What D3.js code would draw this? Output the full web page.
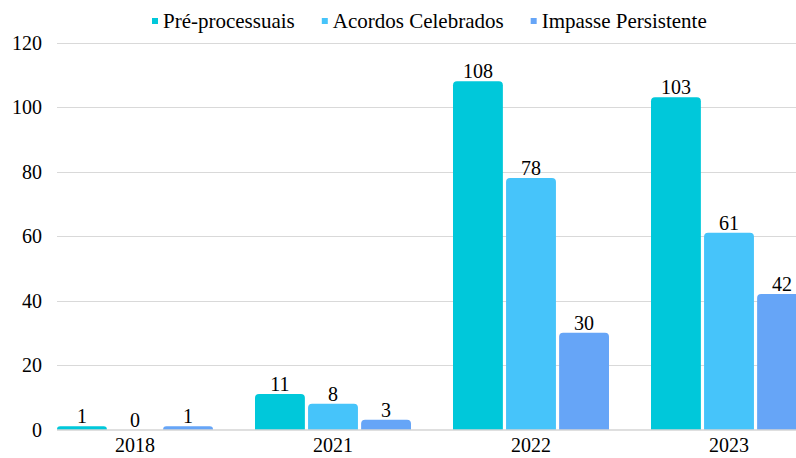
<!DOCTYPE html>
<html><head><meta charset="utf-8"><script src="https://cdn.jsdelivr.net/npm/d3@7"></script></head>
<body style="margin:0">
<svg id="s" width="796" height="458"></svg>
<script>
const categories = ["2018", "2021", "2022", "2023"];
const seriesNames = ["Pré-processuais", "Acordos Celebrados", "Impasse Persistente"];
const preProcessuais = [1, 11, 108, 103];
const acordosCelebrados = [0, 8, 78, 61];
const impassePersistente = [1, 3, 30, 42];
const yTicks = [0, 20, 40, 60, 80, 100, 120];
const colors = ["#00C8DA", "#46C4FA", "#66A5F7"];

const seriesValues = [preProcessuais, acordosCelebrados, impassePersistente];
const W = 796, H = 458;
const plotLeft = 57, plotBottom = 429.5, plotTop = 42.5;
const FONT = "Liberation Serif";

const svg = d3.select("#s");

const y = d3.scaleLinear().domain([0, 120]).range([plotBottom, plotTop]);
const x0 = d3.scaleBand().domain(categories).range([plotLeft, plotLeft + 4 * 198 - 42]).paddingInner(42 / 198).paddingOuter(0);
const x1 = d3.scaleBand().domain(seriesNames).range([0, x0.bandwidth()]).paddingInner(0.06).paddingOuter(0);

// gridlines
svg.append("g").selectAll("line").data(yTicks.filter(d => d > 0)).join("line")
  .attr("x1", plotLeft).attr("x2", W)
  .attr("y1", d => Math.round(y(d)) + 0.5).attr("y2", d => Math.round(y(d)) + 0.5)
  .attr("stroke", "#d9d9d9").attr("stroke-width", 1);

// y tick labels
svg.append("g").selectAll("text").data(yTicks).join("text")
  .attr("x", 42).attr("y", d => y(d) + 7)
  .attr("text-anchor", "end")
  .attr("font-size", 20)
  .style("font-family", FONT).text(d => d);

function topRounded(x, yTop, w, h, r) {
  r = Math.min(r, h, w / 2);
  if (h <= 0) return "";
  return `M${x},${yTop + h} L${x},${yTop + r} Q${x},${yTop} ${x + r},${yTop} L${x + w - r},${yTop} Q${x + w},${yTop} ${x + w},${yTop + r} L${x + w},${yTop + h} Z`;
}

const data = [];
categories.forEach((c, i) => {
  seriesNames.forEach((s, j) => {
    data.push({ cat: c, series: s, value: seriesValues[j][i], color: colors[j] });
  });
});

// bars
svg.append("g").selectAll("path").data(data).join("path")
  .attr("d", d => {
    const bx = x0(d.cat) + x1(d.series);
    const yt = y(d.value);
    return topRounded(bx, yt, x1.bandwidth(), plotBottom - yt, 4);
  })
  .attr("fill", d => d.color);

// baseline
svg.append("line")
  .attr("x1", plotLeft).attr("x2", W)
  .attr("y1", plotBottom + 0.5).attr("y2", plotBottom + 0.5)
  .attr("stroke", "#bfbfbf").attr("stroke-width", 1);

// value labels
svg.append("g").selectAll("text").data(data).join("text")
  .attr("x", d => x0(d.cat) + x1(d.series) + x1.bandwidth() / 2)
  .attr("y", d => y(d.value) - 3)
  .attr("text-anchor", "middle")
  .attr("font-size", 20)
  .style("font-family", FONT).text(d => d.value);

// category labels
svg.append("g").selectAll("text").data(categories).join("text")
  .attr("x", d => x0(d) + x0.bandwidth() / 2)
  .attr("y", 452)
  .attr("text-anchor", "middle")
  .attr("font-size", 20)
  .style("font-family", FONT).text(d => d);

// legend
const legend = svg.append("g");
let lx = 152;
seriesNames.forEach((s, j) => {
  legend.append("rect").attr("x", lx).attr("y", 18).attr("width", 6).attr("height", 6).attr("fill", colors[j]);
  const t = legend.append("text").attr("x", lx + 11).attr("y", 28)
    .attr("font-size", 21)
    .style("font-family", FONT).text(s);
  lx += 11 + t.node().getComputedTextLength() + 27;
});
</script></body></html>
